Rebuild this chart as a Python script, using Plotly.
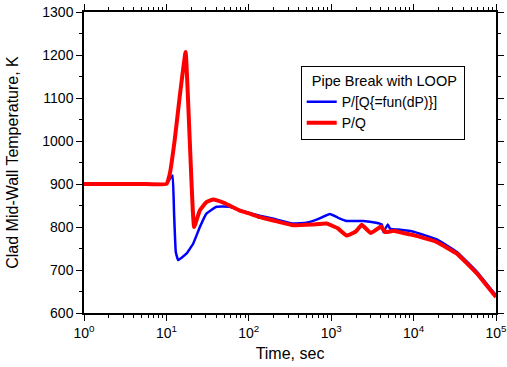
import plotly.graph_objects as go

# Red: P/Q
t_pq = [1, 2, 5, 10, 11.0, 12.6, 14.5, 17.1, 19.2, 21.7, 25.5, 30.6, 37, 50, 78, 103, 136, 200,
        347, 600, 881, 1200, 1542, 2000, 2349, 3020, 4030, 4508, 5690, 7500, 10000, 19140,
        33500, 58600, 100000]
T_pq = [900, 900, 900, 900, 924, 1002, 1103, 1207, 1002, 800, 839, 858, 864, 856, 838, 831, 823, 815,
        804, 806, 808, 797, 780, 790, 805, 786, 801, 788, 791, 786, 781, 765,
        738, 692, 637]

# Blue: P/[Q{=fun(dP)}]
t_fun = [1, 2, 5, 10, 11.3, 11.9, 12.4, 13.0, 13.9, 17.5, 21.1, 25.5, 30.6, 40.6, 58.7, 78, 103,
         136, 200, 347, 500, 667, 967, 1200, 1542, 2455, 3500, 4110, 4300, 4860, 5190, 6500,
         10000, 19140, 33500, 58600, 100000]
T_fun = [900, 900, 900, 900, 915, 920, 830, 742, 723, 738, 761, 800, 831, 847, 847, 839, 832,
         826, 819, 808, 810, 817, 830, 822, 814, 814, 810, 806, 788, 806, 796, 794,
         789, 771, 742, 696, 641]

x_major = [1, 10, 100, 1000, 10000, 100000]
x_labels = ["10<sup>0</sup>", "10<sup>1</sup>", "10<sup>2</sup>", "10<sup>3</sup>",
            "10<sup>4</sup>", "10<sup>5</sup>"]
x_minor = [m * 10 ** d for d in range(5) for m in range(2, 10)]
y_major = [600, 700, 800, 900, 1000, 1100, 1200, 1300]
y_minor = [650, 750, 850, 950, 1050, 1150, 1250]

fig = go.Figure()
fig.add_trace(go.Scatter(x=t_fun, y=T_fun, mode="lines", name="P/[Q{=fun(dP)}]",
                         line=dict(color="#0000ff", width=2.5, shape="spline", smoothing=0.3)))
fig.add_trace(go.Scatter(x=t_pq, y=T_pq, mode="lines", name="P/Q",
                         line=dict(color="#ff0000", width=4, shape="spline", smoothing=0.3)))

font = dict(family="Liberation Sans, Arial, sans-serif", size=14, color="#000000")

fig.update_layout(
    width=507, height=367,
    margin=dict(l=84, r=11, t=12, b=54),
    paper_bgcolor="white", plot_bgcolor="white",
    font=font,
    showlegend=True,
    legend=dict(
        title=dict(text="&nbsp;&nbsp;Pipe Break with LOOP&nbsp;", font=dict(size=14.5)),
        x=0.526, y=0.82, xanchor="left", yanchor="top",
        bordercolor="#000000", borderwidth=1, bgcolor="white",
        font=dict(size=14), tracegroupgap=0, itemwidth=30,
    ),
    xaxis=dict(
        type="log", range=[0, 5], automargin=False,
        tickmode="array", tickvals=x_major, ticktext=x_labels,
        ticks="outside", ticklen=6, tickwidth=1, tickcolor="black",
        tickfont=dict(size=14), ticklabeloverflow="allow",
        minor=dict(tickmode="array", tickvals=x_minor, ticks="outside", ticklen=3,
                   tickcolor="black", showgrid=False),
        showline=True, linecolor="black", linewidth=1.5, mirror="ticks",
        showgrid=False, zeroline=False,
        title=dict(text="Time, sec", font=dict(size=16), standoff=8),
    ),
    yaxis=dict(
        range=[600, 1300], automargin=False,
        tickmode="array", tickvals=y_major,
        ticks="outside", ticklen=6, tickwidth=1, tickcolor="black",
        tickfont=dict(size=14),
        minor=dict(tickmode="array", tickvals=y_minor, ticks="outside", ticklen=3,
                   tickcolor="black", showgrid=False),
        showline=True, linecolor="black", linewidth=1.5, mirror="ticks",
        showgrid=False, zeroline=False,
        title=dict(text="Clad Mid-Wall Temperature, K", font=dict(size=16), standoff=20),
    ),
)

fig.write_html("out.html")
